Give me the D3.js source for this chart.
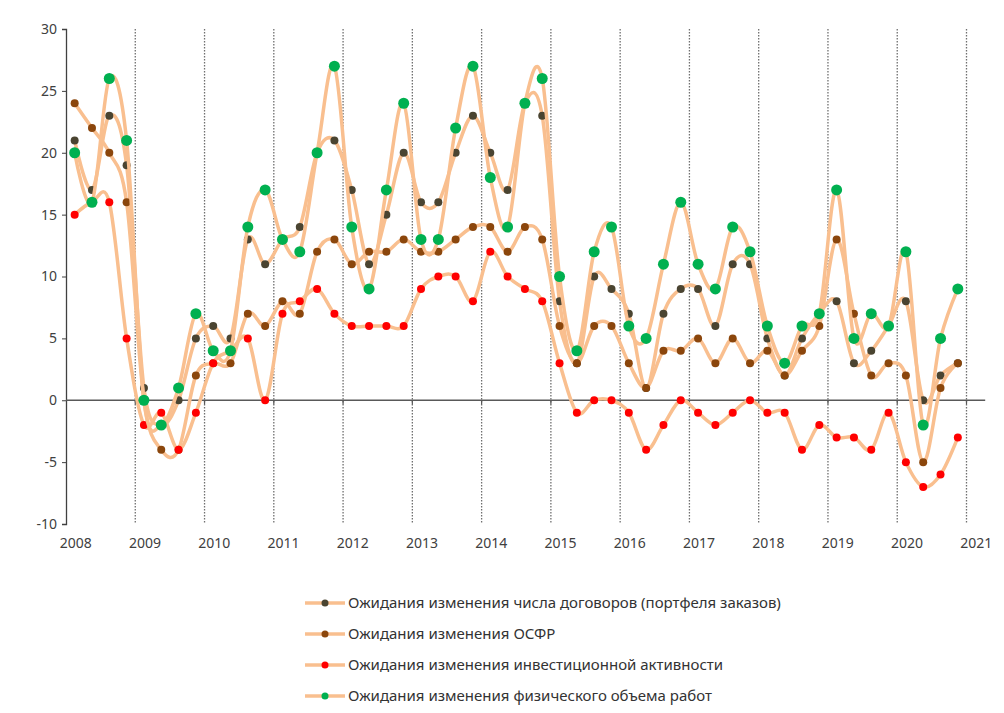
<!DOCTYPE html>
<html>
<head>
<meta charset="utf-8">
<script src="https://cdn.jsdelivr.net/npm/d3@7"></script>
<style>
  body { margin: 0; background: #fff; }
  svg text { font-family: "Noto Sans", "DejaVu Sans", sans-serif; fill: #404040; }
</style>
</head>
<body>
<div id="container"></div>
<script>
let w = 1004;
let h = 713;

// quarterly data, 2008 Q1 .. 2020 Q4
let yearLabels = [2008, 2009, 2010, 2011, 2012, 2013, 2014, 2015, 2016, 2017, 2018, 2019, 2020, 2021];
let yTicks = [-10, -5, 0, 5, 10, 15, 20, 25, 30];

let contracts = [21, 17, 23, 19,  1, -2, 0, 5,  6, 5, 13, 11,  13, 14, 20, 21,  17, 11, 15, 20,  16, 16, 20, 23,
                 20, 17, 24, 23,  8, 3, 10, 9,  7, 1, 7, 9,  9, 6, 11, 11,  5, 2, 5, 7,  8, 3, 4, 6,  8, 0, 2, 3];
let osfr = [24, 22, 20, 16,  0, -4, -4, 2,  3, 3, 7, 6,  8, 7, 12, 13,  11, 12, 12, 13,  12, 12, 13, 14,
            14, 12, 14, 13,  6, 3, 6, 6,  3, 1, 4, 4,  5, 3, 5, 3,  4, 2, 4, 6,  13, 7, 2, 3,  2, -5, 1, 3];
let invest = [15, 16, 16, 5,  -2, -1, -4, -1,  3, 4, 5, 0,  7, 8, 9, 7,  6, 6, 6, 6,  9, 10, 10, 8,
              12, 10, 9, 8,  3, -1, 0, 0,  -1, -4, -2, 0,  -1, -2, -1, 0,  -1, -1, -4, -2,  -3, -3, -4, -1,  -5, -7, -6, -3];
let volume = [20, 16, 26, 21,  0, -2, 1, 7,  4, 4, 14, 17,  13, 12, 20, 27,  14, 9, 17, 24,  13, 13, 22, 27,
              18, 14, 24, 26,  10, 4, 12, 14,  6, 5, 11, 16,  11, 9, 14, 12,  6, 3, 6, 7,  17, 5, 7, 6,  12, -2, 5, 9];

let seriesNames = [
  "Ожидания изменения числа договоров (портфеля заказов)",
  "Ожидания изменения ОСФР",
  "Ожидания изменения инвестиционной активности",
  "Ожидания изменения физического объема работ"
];
let markerColors = ["#4a4431", "#8b460c", "#ff0000", "#00b050"];
let markerSizes = [4, 4, 4, 5.5];
let lineColor = "#f9bf8f";

let seriesValues = [contracts, osfr, invest, volume];
let series = seriesNames.map(function(name, i){
  return {name: name, values: seriesValues[i], color: markerColors[i], r: markerSizes[i]};
});

// time position of each quarter (middle of the quarter)
function quarterTime(i){ return 2008 + Math.floor(i/4) + ((i%4) + 0.5)/4; }

let viz = d3.select("#container")
  .append("svg")
    .attr("width", w)
    .attr("height", h)
;

let xScale = d3.scaleLinear().domain([2008, 2021]).range([66, 966.5]);
let yScale = d3.scaleLinear().domain([-10, 30]).range([524, 29]);

// dotted year lines
viz.append("g").classed("grid", true)
  .selectAll("line")
  .data(yearLabels.slice(1))
  .enter()
  .append("line")
    .attr("x1", d => xScale(d))
    .attr("x2", d => xScale(d))
    .attr("y1", yScale(30))
    .attr("y2", yScale(-10))
    .attr("stroke", "#6f6f6f")
    .attr("stroke-width", 1.3)
    .attr("stroke-dasharray", "1.5,1.5")
;

// y axis
let yAxis = d3.axisLeft(yScale).tickValues(yTicks).tickSize(4).tickPadding(5)
  .tickFormat(d => String(d));
let yAxisGroup = viz.append("g").classed("yAxis", true)
  .attr("transform", "translate(" + xScale(2008) + ",0)")
  .call(yAxis);
yAxisGroup.select(".domain").attr("stroke", "#404040").attr("stroke-width", 1.3);
yAxisGroup.selectAll("line").attr("stroke", "#404040");
yAxisGroup.selectAll("text").attr("font-size", 14).style("fill", "#404040");

// x axis line at zero, labels at bottom
let zeroY = yScale(0);
viz.append("line")
  .attr("x1", xScale(2008)).attr("x2", xScale(2021.27))
  .attr("y1", zeroY).attr("y2", zeroY)
  .attr("stroke", "#595959").attr("stroke-width", 1.3);
viz.append("g").selectAll("line")
  .data(yearLabels.slice(1))
  .enter()
  .append("line")
    .attr("x1", d => xScale(d)).attr("x2", d => xScale(d))
    .attr("y1", zeroY).attr("y2", zeroY + 4)
    .attr("stroke", "#595959").attr("stroke-width", 1.2);
viz.append("g").classed("xLabels", true)
  .selectAll("text")
  .data(yearLabels)
  .enter()
  .append("text")
    .attr("x", d => xScale(d + 0.14))
    .attr("y", yScale(-10) + 24)
    .attr("text-anchor", "middle")
    .attr("font-size", 14)
    .text(d => d)
;

// series: line then markers, in order
let lineGen = d3.line()
  .x((d, i) => xScale(quarterTime(i)))
  .y(d => yScale(d))
  .curve(d3.curveCardinal.tension(0));

let graphGroup = viz.append("g").classed("graphGroup", true);
series.forEach(function(s){
  let g = graphGroup.append("g").classed("series", true);
  g.append("path")
    .datum(s.values)
    .attr("d", lineGen)
    .attr("fill", "none")
    .attr("stroke", lineColor)
    .attr("stroke-width", 3.5)
    .attr("stroke-linejoin", "round");
  g.selectAll("circle")
    .data(s.values)
    .enter()
    .append("circle")
      .attr("cx", (d, i) => xScale(quarterTime(i)))
      .attr("cy", d => yScale(d))
      .attr("r", s.r)
      .attr("fill", s.color);
});

// legend
let legend = viz.append("g").classed("legend", true).attr("transform", "translate(305,603)");
let items = legend.selectAll("g")
  .data(series)
  .enter()
  .append("g")
    .attr("transform", (d, i) => "translate(0," + (i * 31) + ")");
items.append("line")
  .attr("x1", 0).attr("x2", 40).attr("y1", 0).attr("y2", 0)
  .attr("stroke", lineColor).attr("stroke-width", 3.5);
items.append("circle")
  .attr("cx", 20).attr("cy", 0).attr("r", 3.5)
  .attr("fill", d => d.color);
items.append("text")
  .attr("x", 43).attr("y", 5)
  .attr("font-size", 15)
  .style("fill", "#333")
  .text(d => d.name);
</script>
</body>
</html>
